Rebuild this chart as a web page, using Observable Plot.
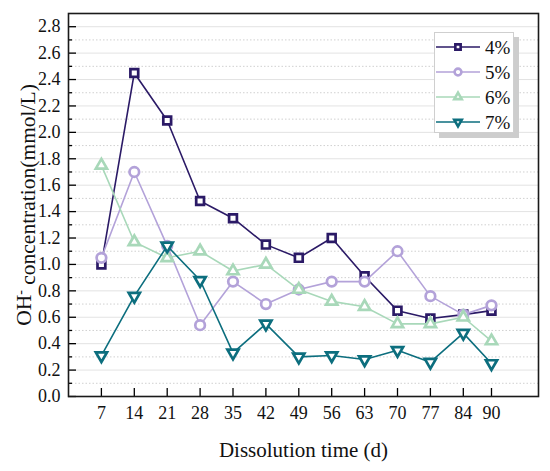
<!DOCTYPE html>
<html>
<head>
<meta charset="utf-8">
<script src="https://cdn.jsdelivr.net/npm/d3@7"></script>
<script src="https://cdn.jsdelivr.net/npm/@observablehq/plot@0.6"></script>
<style>
  html, body { margin: 0; padding: 0; background: #fff; }
  #wrap { position: relative; width: 550px; height: 471px; font-family: "Liberation Serif", "Times New Roman", serif; }
  #legend { position: absolute; left: 434px; top: 32px; width: 80px; height: 101px; background: #fff;
            border: 1px solid #cfcfcf; box-shadow: 5px 5px 0 #cdcdcd; box-sizing: border-box; }
  #legend svg { display: block; }
</style>
</head>
<body>
<div id="wrap"><div id="legend"></div></div>
<script>
const days = [7, 14, 21, 28, 35, 42, 49, 56, 63, 70, 77, 84, 90];
const seriesNames = ["4%", "5%", "6%", "7%"];
const s4 = [1.00, 2.45, 2.09, 1.48, 1.35, 1.15, 1.05, 1.20, 0.91, 0.65, 0.59, 0.62, 0.65];
const s5 = [1.05, 1.70, 1.14, 0.54, 0.87, 0.70, 0.81, 0.87, 0.87, 1.10, 0.76, 0.62, 0.69];
const s6 = [1.75, 1.17, 1.05, 1.10, 0.95, 1.00, 0.81, 0.72, 0.68, 0.55, 0.55, 0.60, 0.42];
const s7 = [0.31, 0.76, 1.14, 0.88, 0.33, 0.55, 0.30, 0.31, 0.28, 0.35, 0.26, 0.48, 0.25];
const seriesValues = [s4, s5, s6, s7];
const colors = ["#2b1a66", "#b3a2d9", "#a8d8b9", "#0c6e7e"];
const yMajor = [0.0, 0.2, 0.4, 0.6, 0.8, 1.0, 1.2, 1.4, 1.6, 1.8, 2.0, 2.2, 2.4, 2.6, 2.8];
const yMinor = [0.1, 0.3, 0.5, 0.7, 0.9, 1.1, 1.3, 1.5, 1.7, 1.9, 2.1, 2.3, 2.5, 2.7];

// custom symbols
const triUp = { draw(ctx, size) { const s = Math.sqrt(size) * 1.4, h = s * Math.sqrt(3) / 2;
  ctx.moveTo(0, -2 * h / 3); ctx.lineTo(s / 2, h / 3); ctx.lineTo(-s / 2, h / 3); ctx.closePath(); } };
const triDown = { draw(ctx, size) { const s = Math.sqrt(size) * 1.4, h = s * Math.sqrt(3) / 2;
  ctx.moveTo(0, 2 * h / 3); ctx.lineTo(s / 2, -h / 3); ctx.lineTo(-s / 2, -h / 3); ctx.closePath(); } };
const square = { draw(ctx, size) { const s = Math.sqrt(size); ctx.rect(-s / 2, -s / 2, s, s); } };
const circle = { draw(ctx, size) { const r = Math.sqrt(size / Math.PI); ctx.moveTo(r, 0); ctx.arc(0, 0, r, 0, 2 * Math.PI); } };
const symbols = [square, circle, triUp, triDown];
const radii = [4.4, 4.8, 4.5, 4.5];

const rows = seriesNames.map((name, i) => days.map((d, j) => ({ day: d, value: seriesValues[i][j], name })));

const serif = "Liberation Serif";
const marks = [
  Plot.gridY(yMajor.slice(1), { stroke: "#e3e3e3", strokeOpacity: 1, strokeWidth: 1 }),
  Plot.gridY(yMinor, { stroke: "#d0d0d0", strokeOpacity: 1, strokeWidth: 1, strokeDasharray: "1.5,2" }),
  // inward ticks
  Plot.axisY({ ticks: yMajor, tickSize: 8, dx: 8, tickFormat: () => "", label: null, strokeWidth: 1.3 }),
  Plot.axisY({ ticks: yMinor, tickSize: 4, dx: 4, tickFormat: () => "", label: null, strokeWidth: 1.3 }),
  Plot.axisY({ ticks: yMajor, tickSize: 0, tickPadding: 8, tickFormat: d3.format(".1f"), label: null,
    fontSize: 18, fontFamily: serif, fill: "#111" }),
  Plot.axisX({ ticks: days, tickSize: 8, dy: -8, tickFormat: () => "", label: null, strokeWidth: 1.3 }),
  Plot.axisX({ ticks: days, tickSize: 0, tickPadding: 10, tickFormat: d => String(d), label: null,
    fontSize: 18, fontFamily: serif, fill: "#111" }),
  Plot.frame({ stroke: "#1a1a1a", strokeWidth: 1.6 }),
  Plot.text(["Dissolution time (d)"], { frameAnchor: "bottom", dy: 54, lineAnchor: "middle", textAnchor: "middle",
    fontSize: 21, fontFamily: serif, fill: "#111", text: d => d }),
  Plot.text(["OH- concentration(mmol/L)"], { frameAnchor: "left", dx: -44, rotate: -90, lineAnchor: "middle",
    textAnchor: "middle", fontSize: 21.5, fontFamily: serif, fill: "#111", text: d => d })
];
rows.forEach((data, i) => {
  marks.push(Plot.line(data, { x: "day", y: "value", stroke: colors[i], strokeWidth: 1.6 }));
  marks.push(Plot.dot(data, { x: "day", y: "value", stroke: colors[i], fill: "white", strokeWidth: 2.7,
    symbol: symbols[i], r: radii[i] }));
});

const chart = Plot.plot({
  width: 550, height: 471,
  marginLeft: 68, marginRight: 12, marginTop: 13, marginBottom: 75,
  x: { domain: [0, 100] },
  y: { domain: [0, 2.9] },
  style: { fontFamily: serif, background: "white", overflow: "visible" },
  marks
});
document.getElementById("wrap").prepend(chart);

// superscript minus in y label
d3.select(chart).selectAll("text").filter(function () { return this.textContent === "OH- concentration(mmol/L)"; })
  .each(function () {
    const t = d3.select(this);
    t.text(null);
    t.append("tspan").text("OH");
    t.append("tspan").attr("dy", "-0.45em").attr("font-size", 14).text("-");
    t.append("tspan").attr("dy", "0.45em").text(" concentration(mmol/L)");
  });

// legend
const lg = d3.select("#legend").append("svg").attr("width", 78).attr("height", 99);
seriesNames.forEach((name, i) => {
  const y = 14 + 25 * i;
  const g = lg.append("g");
  g.append("line").attr("x1", 1).attr("x2", 45).attr("y1", y).attr("y2", y)
    .attr("stroke", colors[i]).attr("stroke-width", 1.6);
  const p = d3.path();
  symbols[i].draw(p, Math.PI * (i === 1 ? 3.4 : 3.0) ** 2);
  g.append("path").attr("d", p.toString()).attr("transform", `translate(23,${y})`)
    .attr("fill", "white").attr("stroke", colors[i]).attr("stroke-width", 2.6);
  g.append("text").attr("x", 50).attr("y", y).attr("dy", "0.35em").attr("font-size", 19)
    .attr("font-family", serif).attr("fill", "#111").text(name);
});
</script>
</body>
</html>
